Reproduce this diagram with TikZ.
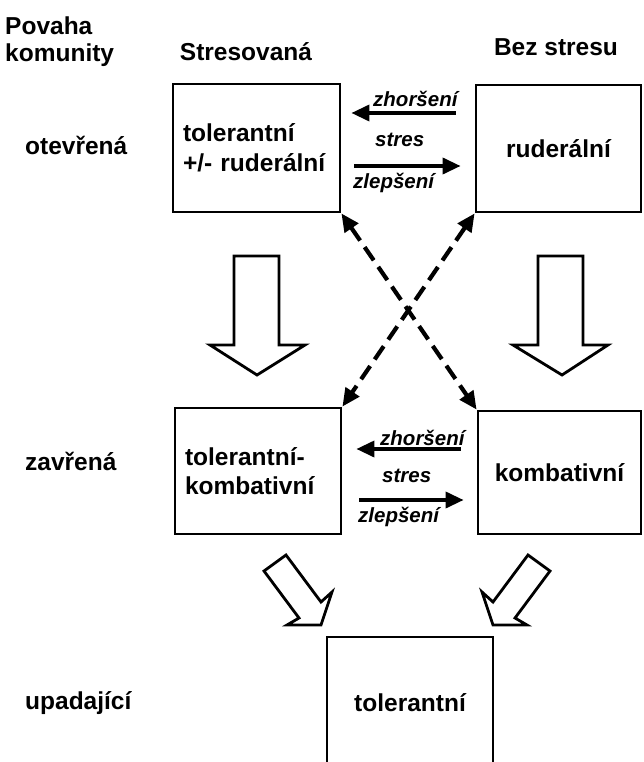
\documentclass[tikz,border=0pt]{standalone}
\usepackage{fontspec}
\setmainfont{Liberation Sans}
\usetikzlibrary{arrows.meta,calc}
\begin{document}
\begin{tikzpicture}[x=1pt,y=-1pt,
  box/.style={draw,line width=2.8pt,inner xsep=10pt,inner ysep=0pt,font=\fontsize{24.5}{29.5}\selectfont\bfseries},
  lbl/.style={anchor=base west,inner sep=0pt,font=\fontsize{24.5}{29}\selectfont\bfseries},
  hdr/.style={anchor=base,inner sep=0pt,font=\fontsize{24.5}{29}\selectfont\bfseries},
  itl/.style={anchor=base west,inner sep=0pt,font=\fontsize{20.5}{24}\selectfont\bfseries\itshape},
  thin/.style={line width=3.6pt,-{Triangle[length=18pt,width=16pt]}},
  dsh/.style={line width=4.2pt,dash pattern=on 16pt off 8pt,{Triangle[length=18pt,width=16pt]}-{Triangle[length=18pt,width=16pt]}},
  hollow/.style={draw,line width=2.8pt,fill=white,line join=miter}
]
\useasboundingbox (0,0) rectangle (643,762);
\fill[white] (0,0) rectangle (643,762);

% headers
\node[lbl] (povaha) at (5,35) {Povaha};
\node[lbl] (komunity) at (5,62) {komunity};
\node[hdr] (stres) at (246,61) {Stresovaná};
\node[hdr] (bez) at (556,56) {Bez stresu};

% row labels
\node[lbl] (otev) at (25,155) {otevřená};
\node[lbl] (zavr) at (25,470) {zavřená};
\node[lbl] (upad) at (25,709) {upadající};

% boxes
\node[box,text width=147pt,align=left,minimum height=128pt] (tl) at (256.5,148) {tolerantní\\+/- ruderální};
\node[box,minimum width=165pt,minimum height=127pt,inner xsep=0pt] (tr) at (558.5,148.5) {ruderální};
\node[box,text width=146pt,align=left,minimum height=126pt] (ml) at (258,471) {tolerantní-\\kombativní};
\node[box,minimum width=163pt,minimum height=123pt,inner xsep=0pt] (mr) at (559.5,472.5) {kombativní};
\node[hdr] (btxt) at (410,711) {tolerantní};
\coordinate (bl) at (327,637);
\coordinate (br) at (493,637);
\draw[line width=2.8pt] (327,775) -- (bl) -- (br) -- (493,775);

% thin arrows top
\draw[thin] ($(tr.west)+(-19,-35.5)$) -- ($(tl.east)+(10,-35)$);
\draw[thin] ($(tl.east)+(13,18)$) -- ($(tr.west)+(-14,17.5)$);
\node[itl] (zh1) at (373,107) {zhoršení};
\node[itl] (st1) at (375,147) {stres};
\node[itl] (zl1) at (353,189) {zlepšení};

% thin arrows middle
\draw[thin] ($(mr.west)+(-16,-23.5)$) -- ($(ml.east)+(14,-22)$);
\draw[thin] ($(ml.east)+(17,29)$) -- ($(mr.west)+(-13,27.5)$);
\node[itl] (zh2) at (380,445) {zhoršení};
\node[itl] (st2) at (382,482) {stres};
\node[itl] (zl2) at (358,522) {zlepšení};

% dashed crossing arrows
\draw[dsh] (tl.south east) -- (mr.north west);
\draw[dsh] (tr.south west) -- (ml.north east);

% hollow vertical arrows
\draw[hollow] (234,256) -- (279,256) -- (279,345) -- (305,345) -- (257,375) -- (210,345) -- (234,345) -- cycle;
\draw[hollow] (538,256) -- (583,256) -- (583,345) -- (608,345) -- (562,375) -- (513,345) -- (538,345) -- cycle;

% hollow diagonal arrows
\draw[hollow] (286,555) -- (321,602) -- (332,592) -- (321,625) -- (287,625) -- (299,618) -- (264,571) -- cycle;
\draw[hollow] (528,555) -- (493,602) -- (482,592) -- (493,625) -- (527,625) -- (515,618) -- (550,571) -- cycle;
\end{tikzpicture}
\end{document}
